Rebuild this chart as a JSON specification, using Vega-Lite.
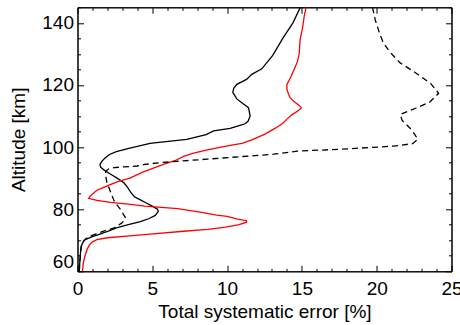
{
  "$schema": "https://vega.github.io/schema/vega-lite/v6.json",
  "width": 374,
  "height": 264,
  "autosize": {"type": "none"},
  "padding": {"left": 77.5, "top": 7.3, "right": 9, "bottom": 53.7},
  "background": "white",
  "config": {
    "view": {"stroke": "black", "strokeWidth": 1},
    "axis": {
      "grid": false,
      "domainColor": "black",
      "domainWidth": 1,
      "tickColor": "black",
      "tickWidth": 1,
      "labelFont": "Liberation Sans",
      "titleFont": "Liberation Sans",
      "labelFontSize": 19,
      "titleFontSize": 19,
      "titleFontWeight": "normal",
      "labelColor": "black",
      "titleColor": "black",
      "labelOverlap": false
    }
  },
  "data": {
    "values": [
      {"s": "solid", "alt": 60, "err": 0.12},
      {"s": "solid", "alt": 62, "err": 0.14},
      {"s": "solid", "alt": 64, "err": 0.17},
      {"s": "solid", "alt": 66, "err": 0.2},
      {"s": "solid", "alt": 68, "err": 0.25},
      {"s": "solid", "alt": 69, "err": 0.33},
      {"s": "solid", "alt": 70, "err": 0.45},
      {"s": "solid", "alt": 71, "err": 0.9},
      {"s": "solid", "alt": 72, "err": 1.5},
      {"s": "solid", "alt": 73, "err": 2.1},
      {"s": "solid", "alt": 74, "err": 2.6},
      {"s": "solid", "alt": 75, "err": 3.4},
      {"s": "solid", "alt": 76, "err": 4.2},
      {"s": "solid", "alt": 77, "err": 4.8},
      {"s": "solid", "alt": 78, "err": 5.2},
      {"s": "solid", "alt": 79.3, "err": 5.4},
      {"s": "solid", "alt": 80, "err": 5.35},
      {"s": "solid", "alt": 81, "err": 5.0},
      {"s": "solid", "alt": 82, "err": 4.6},
      {"s": "solid", "alt": 83, "err": 4.2},
      {"s": "solid", "alt": 84, "err": 3.8},
      {"s": "solid", "alt": 85.5, "err": 3.55},
      {"s": "solid", "alt": 87, "err": 3.35},
      {"s": "solid", "alt": 88.5, "err": 3.1},
      {"s": "solid", "alt": 90, "err": 2.65},
      {"s": "solid", "alt": 91, "err": 2.3},
      {"s": "solid", "alt": 92.5, "err": 1.8},
      {"s": "solid", "alt": 93.5, "err": 1.55},
      {"s": "solid", "alt": 94.4, "err": 1.5},
      {"s": "solid", "alt": 95.5, "err": 1.64},
      {"s": "solid", "alt": 96.5, "err": 1.84},
      {"s": "solid", "alt": 97.7, "err": 2.17},
      {"s": "solid", "alt": 98.5, "err": 2.6},
      {"s": "solid", "alt": 99.4, "err": 3.3},
      {"s": "solid", "alt": 100.2, "err": 4.0},
      {"s": "solid", "alt": 101.2, "err": 4.85},
      {"s": "solid", "alt": 102.5, "err": 7.3},
      {"s": "solid", "alt": 104, "err": 8.6},
      {"s": "solid", "alt": 105.2, "err": 9.1},
      {"s": "solid", "alt": 106, "err": 10.2},
      {"s": "solid", "alt": 106.8, "err": 10.75},
      {"s": "solid", "alt": 107.5, "err": 11.2},
      {"s": "solid", "alt": 108.3, "err": 11.4},
      {"s": "solid", "alt": 110, "err": 11.54},
      {"s": "solid", "alt": 112.7, "err": 11.43},
      {"s": "solid", "alt": 114, "err": 11.05},
      {"s": "solid", "alt": 115.5, "err": 10.65},
      {"s": "solid", "alt": 117.6, "err": 10.38},
      {"s": "solid", "alt": 119, "err": 10.45},
      {"s": "solid", "alt": 120.2, "err": 10.65},
      {"s": "solid", "alt": 121.8, "err": 11.3},
      {"s": "solid", "alt": 123.4, "err": 11.65},
      {"s": "solid", "alt": 125.2, "err": 12.32},
      {"s": "solid", "alt": 129.5, "err": 13.05},
      {"s": "solid", "alt": 135, "err": 13.72},
      {"s": "solid", "alt": 140, "err": 14.4},
      {"s": "solid", "alt": 145, "err": 14.9},

      {"s": "red", "alt": 60, "err": 0.33},
      {"s": "red", "alt": 63, "err": 0.4},
      {"s": "red", "alt": 65, "err": 0.5},
      {"s": "red", "alt": 67.2, "err": 0.65},
      {"s": "red", "alt": 68.5, "err": 0.8},
      {"s": "red", "alt": 69.5, "err": 1.0},
      {"s": "red", "alt": 70.2, "err": 1.3},
      {"s": "red", "alt": 70.8, "err": 2.0},
      {"s": "red", "alt": 71.4, "err": 3.5},
      {"s": "red", "alt": 72.0, "err": 4.85},
      {"s": "red", "alt": 72.9, "err": 7.1},
      {"s": "red", "alt": 73.5, "err": 8.7},
      {"s": "red", "alt": 74.2, "err": 9.9},
      {"s": "red", "alt": 75.0, "err": 10.8},
      {"s": "red", "alt": 75.8, "err": 11.3},
      {"s": "red", "alt": 76.3, "err": 11.3},
      {"s": "red", "alt": 76.8, "err": 10.7},
      {"s": "red", "alt": 77.7, "err": 10.0},
      {"s": "red", "alt": 78.1, "err": 9.3},
      {"s": "red", "alt": 79.0, "err": 8.3},
      {"s": "red", "alt": 80.2, "err": 6.7},
      {"s": "red", "alt": 81.0, "err": 4.5},
      {"s": "red", "alt": 81.6, "err": 3.4},
      {"s": "red", "alt": 82.2, "err": 2.2},
      {"s": "red", "alt": 82.8, "err": 1.3},
      {"s": "red", "alt": 83.5, "err": 0.75},
      {"s": "red", "alt": 84.2, "err": 0.85},
      {"s": "red", "alt": 85.3, "err": 1.1},
      {"s": "red", "alt": 86.1, "err": 1.3},
      {"s": "red", "alt": 87, "err": 1.75},
      {"s": "red", "alt": 88.8, "err": 2.64},
      {"s": "red", "alt": 90, "err": 3.5},
      {"s": "red", "alt": 92, "err": 4.4},
      {"s": "red", "alt": 94.4, "err": 5.74},
      {"s": "red", "alt": 95.6, "err": 6.5},
      {"s": "red", "alt": 97.0, "err": 7.1},
      {"s": "red", "alt": 98.0, "err": 7.7},
      {"s": "red", "alt": 99.0, "err": 8.6},
      {"s": "red", "alt": 100.0, "err": 9.6},
      {"s": "red", "alt": 100.6, "err": 10.3},
      {"s": "red", "alt": 101.2, "err": 11.0},
      {"s": "red", "alt": 102.3, "err": 11.65},
      {"s": "red", "alt": 104.1, "err": 12.5},
      {"s": "red", "alt": 106, "err": 13.2},
      {"s": "red", "alt": 107.6, "err": 13.7},
      {"s": "red", "alt": 109, "err": 14.0},
      {"s": "red", "alt": 110.3, "err": 14.3},
      {"s": "red", "alt": 111.5, "err": 14.7},
      {"s": "red", "alt": 112.6, "err": 14.97},
      {"s": "red", "alt": 113.5, "err": 14.8},
      {"s": "red", "alt": 114.8, "err": 14.43},
      {"s": "red", "alt": 116, "err": 14.2},
      {"s": "red", "alt": 117.2, "err": 14.1},
      {"s": "red", "alt": 118.5, "err": 14.0},
      {"s": "red", "alt": 120.2, "err": 14.0},
      {"s": "red", "alt": 122.5, "err": 14.25},
      {"s": "red", "alt": 125.2, "err": 14.5},
      {"s": "red", "alt": 127.5, "err": 14.7},
      {"s": "red", "alt": 130, "err": 14.82},
      {"s": "red", "alt": 134.6, "err": 14.88},
      {"s": "red", "alt": 138.5, "err": 15.05},
      {"s": "red", "alt": 142, "err": 15.15},
      {"s": "red", "alt": 145, "err": 15.28},

      {"s": "dashed", "alt": 60, "err": 0.12},
      {"s": "dashed", "alt": 62, "err": 0.14},
      {"s": "dashed", "alt": 64, "err": 0.17},
      {"s": "dashed", "alt": 66, "err": 0.2},
      {"s": "dashed", "alt": 68, "err": 0.25},
      {"s": "dashed", "alt": 69.5, "err": 0.35},
      {"s": "dashed", "alt": 70.5, "err": 0.55},
      {"s": "dashed", "alt": 71.3, "err": 0.84},
      {"s": "dashed", "alt": 72.0, "err": 1.2},
      {"s": "dashed", "alt": 72.9, "err": 1.75},
      {"s": "dashed", "alt": 74.0, "err": 2.45},
      {"s": "dashed", "alt": 74.6, "err": 2.65},
      {"s": "dashed", "alt": 75.5, "err": 2.95},
      {"s": "dashed", "alt": 76.5, "err": 3.15},
      {"s": "dashed", "alt": 77.3, "err": 3.2},
      {"s": "dashed", "alt": 78.5, "err": 3.05},
      {"s": "dashed", "alt": 79.5, "err": 2.95},
      {"s": "dashed", "alt": 81, "err": 2.7},
      {"s": "dashed", "alt": 82.1, "err": 2.5},
      {"s": "dashed", "alt": 85.4, "err": 2.22},
      {"s": "dashed", "alt": 88.6, "err": 1.97},
      {"s": "dashed", "alt": 90.7, "err": 1.88},
      {"s": "dashed", "alt": 92.2, "err": 1.88},
      {"s": "dashed", "alt": 93.0, "err": 2.1},
      {"s": "dashed", "alt": 93.4, "err": 2.45},
      {"s": "dashed", "alt": 93.9, "err": 3.98},
      {"s": "dashed", "alt": 94.4, "err": 4.5},
      {"s": "dashed", "alt": 95.0, "err": 5.54},
      {"s": "dashed", "alt": 96.1, "err": 8.64},
      {"s": "dashed", "alt": 97.7, "err": 13.1},
      {"s": "dashed", "alt": 98.7, "err": 14.7},
      {"s": "dashed", "alt": 99.3, "err": 17.56},
      {"s": "dashed", "alt": 99.7, "err": 19.0},
      {"s": "dashed", "alt": 100.3, "err": 21.12},
      {"s": "dashed", "alt": 101.1, "err": 22.4},
      {"s": "dashed", "alt": 102.5, "err": 22.75},
      {"s": "dashed", "alt": 104, "err": 22.55},
      {"s": "dashed", "alt": 105.7, "err": 22.3},
      {"s": "dashed", "alt": 108.6, "err": 21.7},
      {"s": "dashed", "alt": 110.5, "err": 21.57},
      {"s": "dashed", "alt": 112.5, "err": 22.6},
      {"s": "dashed", "alt": 114.5, "err": 23.55},
      {"s": "dashed", "alt": 117.3, "err": 24.14},
      {"s": "dashed", "alt": 120.5, "err": 23.6},
      {"s": "dashed", "alt": 124, "err": 22.57},
      {"s": "dashed", "alt": 127.1, "err": 21.57},
      {"s": "dashed", "alt": 130.5, "err": 20.9},
      {"s": "dashed", "alt": 133.5, "err": 20.45},
      {"s": "dashed", "alt": 136.5, "err": 20.2},
      {"s": "dashed", "alt": 141, "err": 19.9},
      {"s": "dashed", "alt": 145, "err": 19.72}
    ]
  },
  "layer": [
    {
      "transform": [{"filter": "datum.s !== 'dashed'"}],
      "mark": {"type": "line", "strokeWidth": 1.3},
      "encoding": {
        "x": {
          "field": "err", "type": "quantitative",
          "scale": {"domain": [0, 25], "nice": false, "zero": false},
          "axis": {
            "orient": "bottom",
            "values": [0,1,2,3,4,5,6,7,8,9,10,11,12,13,14,15,16,17,18,19,20,21,22,23,24,25],
            "labelExpr": "datum.value % 5 === 0 ? datum.label : ''",
            "tickSize": {"condition": {"test": "datum.value % 5 === 0", "value": -6}, "value": -3},
            "labelPadding": 14,
            "labelFlush": false,
            "title": "Total systematic error [%]",
            "titlePadding": 1
          }
        },
        "y": {
          "field": "alt", "type": "quantitative",
          "scale": {"domain": [60, 145], "nice": false, "zero": false},
          "axis": {
            "orient": "left",
            "values": [60,65,70,75,80,85,90,95,100,105,110,115,120,125,130,135,140,145],
            "labelExpr": "datum.value % 20 === 0 ? datum.label : ''",
            "tickSize": {"condition": {"test": "datum.value % 20 === 0", "value": -6}, "value": -3},
            "labelPadding": 10,
            "labelFlush": true,
            "title": "Altitude [km]",
            "titlePadding": 13
          }
        },
        "order": {"field": "alt", "type": "quantitative"},
        "color": {
          "field": "s", "type": "nominal",
          "scale": {"domain": ["solid", "red"], "range": ["black", "#ff0000"]},
          "legend": null
        }
      }
    },
    {
      "transform": [{"filter": "datum.s === 'dashed'"}],
      "mark": {"type": "line", "strokeWidth": 1.3, "color": "black", "strokeDash": [6, 4]},
      "encoding": {
        "x": {
          "field": "err", "type": "quantitative",
          "axis": {
            "orient": "top",
            "values": [0,1,2,3,4,5,6,7,8,9,10,11,12,13,14,15,16,17,18,19,20,21,22,23,24,25],
            "labels": false,
            "title": null,
            "tickSize": {"condition": {"test": "datum.value % 5 === 0", "value": -6}, "value": -3}
          }
        },
        "y": {
          "field": "alt", "type": "quantitative",
          "axis": {
            "orient": "right",
            "values": [60,65,70,75,80,85,90,95,100,105,110,115,120,125,130,135,140,145],
            "labels": false,
            "title": null,
            "tickSize": {"condition": {"test": "datum.value % 20 === 0", "value": -6}, "value": -3}
          }
        },
        "order": {"field": "alt", "type": "quantitative"}
      }
    }
  ],
  "resolve": {"axis": {"x": "independent", "y": "independent"}}
}
